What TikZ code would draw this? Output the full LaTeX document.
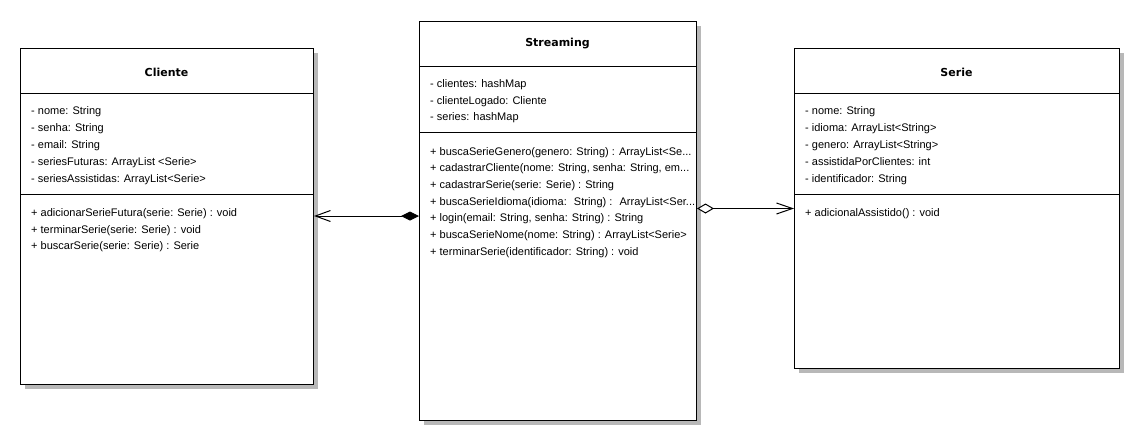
\documentclass[tikz,border=0pt]{standalone}
\usepackage{fontspec}
\setmainfont{Liberation Sans}
\newfontfamily\titlefont{DejaVu Sans}
\usetikzlibrary{arrows.meta,shadows,calc}
\tikzset{
  classbox/.style={draw=black, line width=1pt, fill=white, inner sep=0pt, anchor=north west,
    drop shadow={shadow xshift=4pt, shadow yshift=-4pt, fill=black!28, opacity=1}},
  classtitle/.style={inner sep=0pt, font=\titlefont\bfseries\fontsize{11}{13}\selectfont},
  member/.style={inner sep=0pt, anchor=west, yshift=-2pt, text height=8pt, text depth=2.5pt, font=\fontsize{11}{13}\selectfont},
  sepline/.style={line width=1pt, black},
  compo/.style={line width=1pt, {Diamond[length=18pt,width=9pt]}-{Straight Barb[length=15pt,width=11pt,line width=1pt]}},
  aggre/.style={line width=1pt, {Diamond[open,length=17pt,width=10pt,fill=white]}-{Straight Barb[length=16pt,width=11pt,line width=1pt]}}
}
\begin{document}
\begin{tikzpicture}[x=1pt,y=-1pt]
\fill[white] (0,0) rectangle (1143,445);
\useasboundingbox (0,0) rectangle (1143,445);

% Cliente
\node[classbox, minimum width=293pt, minimum height=336pt] (cliente) at (20,48) {};
\node[classtitle] (cliente-t) at (166.5,72) {Cliente};
\draw[sepline] (cliente.west |- 0,93) -- (cliente.east |- 0,93);
\draw[sepline] (cliente.west |- 0,194) -- (cliente.east |- 0,194);
\node[member] (c-a1) at (31,110) {- nome: String};
\node[member] (c-a2) at (31,127) {- senha: String};
\node[member] (c-a3) at (31,144) {- email: String};
\node[member] (c-a4) at (31,161) {- seriesFuturas: ArrayList <Serie>};
\node[member] (c-a5) at (31,178) {- seriesAssistidas: ArrayList<Serie>};
\node[member] (c-m1) at (31,212) {+ adicionarSerieFutura(serie: Serie) : void};
\node[member] (c-m2) at (31,228.5) {+ terminarSerie(serie: Serie) : void};
\node[member] (c-m3) at (31,245) {+ buscarSerie(serie: Serie) : Serie};

% Streaming
\node[classbox, minimum width=277pt, minimum height=399pt] (streaming) at (419,21) {};
\node[classtitle] (streaming-t) at (557.5,44) {Streaming};
\draw[sepline] (streaming.west |- 0,66) -- (streaming.east |- 0,66);
\draw[sepline] (streaming.west |- 0,132) -- (streaming.east |- 0,132);
\node[member] (s-a1) at (430,83) {- clientes: hashMap};
\node[member] (s-a2) at (430,99.5) {- clienteLogado: Cliente};
\node[member] (s-a3) at (430,116) {- series: hashMap};
\node[member] (s-m1) at (430,150.5) {+ buscaSerieGenero(genero: String) : ArrayList<Se...};
\node[member] (s-m2) at (430,167.2) {+ cadastrarCliente(nome: String, senha: String, em...};
\node[member] (s-m3) at (430,183.8) {+ cadastrarSerie(serie: Serie) : String};
\node[member] (s-m4) at (430,200.5) {+ buscaSerieIdioma(idioma:~ String) :~ ArrayList<Ser...};
\node[member] (s-m5) at (430,217.1) {+ login(email: String, senha: String) : String};
\node[member] (s-m6) at (430,233.8) {+ buscaSerieNome(nome: String) : ArrayList<Serie>};
\node[member] (s-m7) at (430,250.4) {+ terminarSerie(identificador: String) : void};

% Serie
\node[classbox, minimum width=325pt, minimum height=320pt] (serie) at (794,48) {};
\node[classtitle] (serie-t) at (956.5,72) {Serie};
\draw[sepline] (serie.west |- 0,93) -- (serie.east |- 0,93);
\draw[sepline] (serie.west |- 0,194) -- (serie.east |- 0,194);
\node[member] (r-a1) at (805,110) {- nome: String};
\node[member] (r-a2) at (805,127) {- idioma: ArrayList<String>};
\node[member] (r-a3) at (805,144) {- genero: ArrayList<String>};
\node[member] (r-a4) at (805,161) {- assistidaPorClientes: int};
\node[member] (r-a5) at (805,178) {- identificador: String};
\node[member] (r-m1) at (805,212) {+ adicionalAssistido() : void};

% connectors
\draw[compo] (streaming.west |- 0,216) -- (cliente.east |- 0,216);
\draw[aggre] (streaming.east |- 0,208.5) -- (serie.west |- 0,208.5);
\end{tikzpicture}
\end{document}
